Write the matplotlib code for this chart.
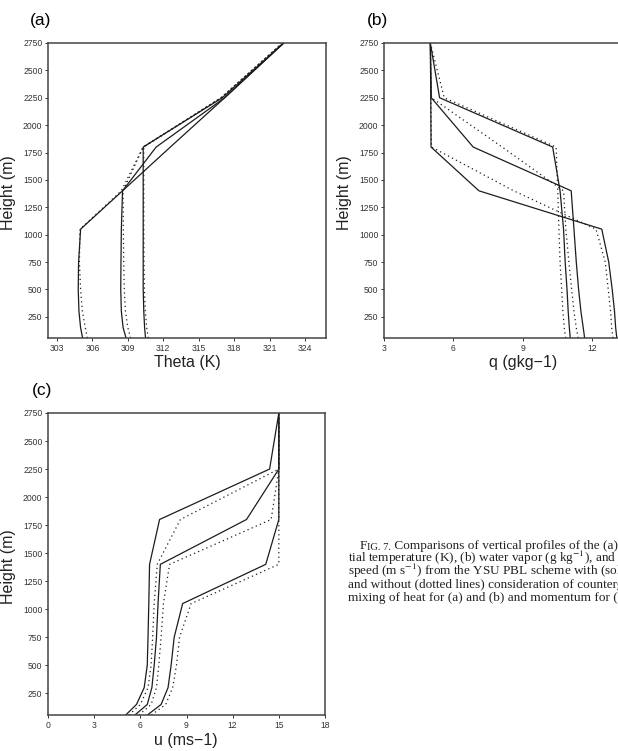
import matplotlib
matplotlib.use("Agg")
import matplotlib.pyplot as plt

plt.rcParams['font.family'] = ['Liberation Sans', 'DejaVu Sans']
plt.rcParams['mathtext.fontset'] = 'stix'

# model levels (m) shared by every profile
heights = [56, 150, 300, 500, 750, 1050, 1400, 1800, 2250, 2750]

# (a) potential temperature (K), solid = with countergradient, dotted = without
theta_solid_1 = [305.17, 305.0, 304.86, 304.8, 304.83, 305.0, 308.55, 312.6, 317.2, 322.2]
theta_dot_1 = [305.57, 305.4, 305.15, 305.0, 304.9, 304.95, 308.45, 310.3, 316.9, 322.1]
theta_solid_2 = [308.85, 308.6, 308.45, 308.4, 308.42, 308.45, 308.55, 311.4, 317.2, 322.2]
theta_dot_2 = [309.24, 309.0, 308.8, 308.7, 308.65, 308.62, 308.6, 310.3, 316.9, 322.1]
theta_solid_3 = [310.5, 310.42, 310.35, 310.3, 310.3, 310.3, 310.3, 310.3, 317.0, 322.2]
theta_dot_3 = [310.73, 310.6, 310.48, 310.4, 310.37, 310.35, 310.35, 310.35, 316.9, 322.1]

# (b) water vapor (g/kg)
q_solid_1 = [13.05, 13.0, 12.95, 12.85, 12.7, 12.4, 7.1, 5.03, 5.02, 5.0]
q_dot_1 = [12.88, 12.83, 12.78, 12.68, 12.55, 12.15, 8.6, 5.05, 5.02, 5.0]
q_solid_2 = [11.66, 11.6, 11.5, 11.4, 11.3, 11.2, 11.08, 6.85, 5.04, 5.0]
q_dot_2 = [11.38, 11.3, 11.2, 11.1, 10.98, 10.85, 10.75, 8.1, 5.05, 5.0]
q_solid_3 = [11.04, 11.0, 10.95, 10.9, 10.82, 10.75, 10.6, 10.28, 5.4, 5.0]
q_dot_3 = [10.84, 10.78, 10.72, 10.67, 10.6, 10.55, 10.5, 10.43, 5.6, 5.0]

# (c) wind speed (m/s)
u_solid_1 = [6.46, 7.35, 7.8, 8.0, 8.2, 8.75, 14.15, 15.0, 15.0, 15.0]
u_dot_1 = [6.72, 7.65, 8.1, 8.35, 8.55, 9.3, 15.0, 15.0, 15.0, 15.0]
u_solid_2 = [5.65, 6.45, 6.75, 6.9, 7.05, 7.15, 7.3, 12.9, 15.0, 15.0]
u_dot_2 = [5.91, 6.7, 7.05, 7.2, 7.35, 7.5, 7.9, 14.5, 15.0, 15.0]
u_solid_3 = [5.05, 5.75, 6.25, 6.45, 6.5, 6.55, 6.6, 7.25, 14.4, 15.0]
u_dot_3 = [5.26, 6.0, 6.5, 6.7, 6.8, 6.9, 7.1, 8.6, 15.0, 15.0]

theta_ticks = [303, 306, 309, 312, 315, 318, 321, 324]
q_ticks = [3, 6, 9, 12]   # 15 sits past the cropped right edge
u_ticks = [0, 3, 6, 9, 12, 15, 18]
height_ticks = [250, 500, 750, 1000, 1250, 1500, 1750, 2000, 2250, 2500, 2750]

caption = [
    "tial temperature (K), (b) water vapor (g kg$^{-1}$), and (c) wind",
    "speed (m s$^{-1}$) from the YSU PBL scheme with (solid lines)",
    "and without (dotted lines) consideration of countergradient",
    "mixing of heat for (a) and (b) and momentum for (c).",
]

W, H = 618, 751
fig = plt.figure(figsize=(W / 100, H / 100), dpi=100)


def box(left, top, right, bottom):
    # pixel box -> figure fraction
    return [left / W, 1 - bottom / H, (right - left) / W, (bottom - top) / H]


def fx(px):
    return px / W


def fy(py):
    return 1 - py / H


line_col = '#1c1c1c'
dots = (0, (1, 2.6))


def profile_axes(rect, xlim, xticks, solids, dotted):
    ax = fig.add_axes(rect)
    for xs in solids:
        ax.plot(xs, heights, color=line_col, lw=0.9)
    for xs in dotted:
        ax.plot(xs, heights, color=line_col, lw=0.9, linestyle=dots)
    ax.set_xlim(xlim)
    ax.set_ylim(56, 2750)
    ax.set_xticks(xticks)
    ax.set_yticks(height_ticks)
    ax.tick_params(direction='out', length=2.5, width=0.7, labelsize=6.2,
                   pad=1.5, colors='#333333')
    for s in ax.spines.values():
        s.set_linewidth(1.1)
        s.set_color('#444444')
    return ax


ax_a = profile_axes(box(48, 43, 326, 338), (302.24, 325.78), theta_ticks,
                    [theta_solid_1, theta_solid_2, theta_solid_3],
                    [theta_dot_1, theta_dot_2, theta_dot_3])
ax_b = profile_axes(box(384, 43, 662, 338), (3, 15), q_ticks,
                    [q_solid_1, q_solid_2, q_solid_3],
                    [q_dot_1, q_dot_2, q_dot_3])
ax_c = profile_axes(box(48, 413, 325, 715), (0, 18), u_ticks,
                    [u_solid_1, u_solid_2, u_solid_3],
                    [u_dot_1, u_dot_2, u_dot_3])

# axis titles
lab = dict(fontsize=11.5, color='#222222', ha='center', va='center')
fig.text(fx(9), fy(193), 'Height (m)', rotation=90, **lab)
fig.text(fx(345), fy(193), 'Height (m)', rotation=90, **lab)
fig.text(fx(9), fy(567), 'Height (m)', rotation=90, **lab)
fig.text(fx(187), fy(362), 'Theta (K)', **lab)
fig.text(fx(523), fy(362), 'q (gkg\u22121)', **lab)
fig.text(fx(186), fy(740), 'u (ms\u22121)', **lab)

# panel letters
fig.text(fx(41), fy(20), '(a)', fontsize=12.5, ha='center', va='center')
fig.text(fx(378), fy(20), '(b)', fontsize=12.5, ha='center', va='center')
fig.text(fx(42), fy(390), '(c)', fontsize=12.5, ha='center', va='center')

# caption (partly cut off by the right edge, as in the scan)
cap = dict(family='Liberation Serif', fontsize=9.5, color='#222222')
t1 = fig.text(fx(360), fy(549), 'F', va='baseline', **cap)
t2 = plt.annotate('IG. 7.', xy=(1, 0), xycoords=t1, va='bottom', ha='left',
                  family='Liberation Serif', fontsize=7.6, color='#222222',
                  annotation_clip=False)
plt.annotate(' Comparisons of vertical profiles of the (a) poten-', xy=(1, 0),
             xycoords=t2, va='bottom', ha='left', annotation_clip=False, **cap)
for i, line in enumerate(caption):
    fig.text(fx(348), fy(562 + 13 * i), line, va='baseline', **cap)

fig.savefig('out.png', dpi=100)
